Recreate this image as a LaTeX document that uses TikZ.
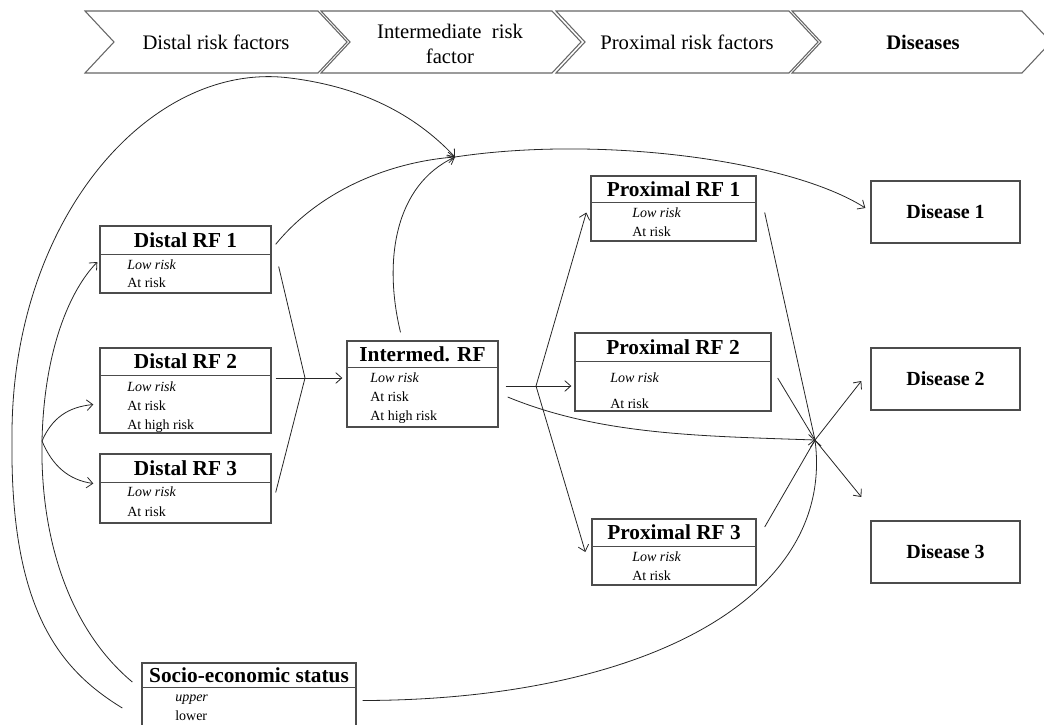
\documentclass[tikz,border=0pt]{standalone}
\usepackage{fontspec}
\setmainfont{Liberation Serif}
\usetikzlibrary{arrows.meta,calc}
\begin{document}
\begin{tikzpicture}[x=0.75pt,y=-0.75pt,
 ln/.style={line width=0.6pt, draw=black!85},
 arr/.style={ln, -{Straight Barb[length=4.5pt,width=8pt]}},
 rbox/.style={draw=black!70, line width=1pt, inner sep=0pt},
 sep/.style={draw=black!70, line width=1pt},
 ttl/.style={font=\fontsize{16}{18}\selectfont\bfseries, inner sep=0pt},
 itm/.style={font=\fontsize{10.5}{12}\selectfont, anchor=west, inner sep=0pt, text height=0.7em, text depth=0.2em},
 chev/.style={draw=black!60, line width=0.8pt, fill=white},
 htxt/.style={font=\fontsize{15.5}{19}\selectfont, align=center, inner sep=0pt},
 dis/.style={rbox, font=\fontsize{15}{18}\selectfont\bfseries, minimum width=149*0.75pt, minimum height=62*0.75pt}
]
\useasboundingbox (0,0) rectangle (1044,724);

% header chevrons
\draw[chev] (85,11) -- (318,11) -- (347,42) -- (318,73) -- (85,73) -- (114,42) -- cycle;
\draw[chev] (321,11) -- (552,11) -- (581,42) -- (552,73) -- (321,73) -- (350,42) -- cycle;
\draw[chev] (556,11) -- (789,11) -- (818,42) -- (789,73) -- (556,73) -- (585,42) -- cycle;
\draw[chev] (792,11) -- (1022,11) -- (1051,42) -- (1022,73) -- (792,73) -- (821,42) -- cycle;
\node[htxt] (h1) at (216,42) {Distal risk factors};
\node[htxt] (h2) at (450,44) {Intermediate\ \ risk\\factor};
\node[htxt] (h3) at (687,42) {Proximal risk factors};
\node[htxt, font=\fontsize{15.5}{19}\selectfont\bfseries] (h4) at (923,42) {Diseases};

% Distal RF 1
\node[rbox, minimum width=171*0.75pt, minimum height=67*0.75pt] (d1) at (185.5,259.5) {};
\draw[sep] ($(d1.north west)+(0,29)$) -- ($(d1.north east)+(0,29)$);
\node[ttl] (d1t) at ($(d1.north)+(0,14.5)$) {Distal RF 1};
\node[itm] (d1a) at (127,266) {\itshape Low risk};
\node[itm] (d1b) at (127,284) {At risk};

% Distal RF 2
\node[rbox, minimum width=171*0.75pt, minimum height=85*0.75pt] (d2) at (185.5,390.5) {};
\draw[sep] ($(d2.north west)+(0,28)$) -- ($(d2.north east)+(0,28)$);
\node[ttl] (d2t) at ($(d2.north)+(0,14)$) {Distal RF 2};
\node[itm] (d2a) at (127,388) {\itshape Low risk};
\node[itm] (d2b) at (127,407) {At risk};
\node[itm] (d2c) at (127,426) {At high risk};

% Distal RF 3
\node[rbox, minimum width=171*0.75pt, minimum height=69*0.75pt] (d3) at (185.5,488.5) {};
\draw[sep] ($(d3.north west)+(0,29)$) -- ($(d3.north east)+(0,29)$);
\node[ttl] (d3t) at ($(d3.north)+(0,14.5)$) {Distal RF 3};
\node[itm] (d3a) at (127,493) {\itshape Low risk};
\node[itm] (d3b) at (127,513) {At risk};

% Intermediate RF
\node[rbox, minimum width=151*0.75pt, minimum height=86*0.75pt] (im) at (422.5,384) {};
\draw[sep] ($(im.north west)+(0,27)$) -- ($(im.north east)+(0,27)$);
\node[ttl] (imt) at ($(im.north)+(0,13.5)$) {Intermed. RF};
\node[itm] (ima) at (370,379) {\itshape Low risk};
\node[itm] (imb) at (370,398) {At risk};
\node[itm] (imc) at (370,417) {At high risk};

% Proximal RF 1
\node[rbox, minimum width=165*0.75pt, minimum height=65*0.75pt] (p1) at (673.5,208.5) {};
\draw[sep] ($(p1.north west)+(0,27)$) -- ($(p1.north east)+(0,27)$);
\node[ttl] (p1t) at ($(p1.north)+(0,13.5)$) {Proximal RF 1};
\node[itm] (p1a) at (632,214) {\itshape Low risk};
\node[itm] (p1b) at (632,233) {At risk};

% Proximal RF 2
\node[rbox, minimum width=196*0.75pt, minimum height=78*0.75pt] (p2) at (673,372) {};
\draw[sep] ($(p2.north west)+(0,29)$) -- ($(p2.north east)+(0,29)$);
\node[ttl] (p2t) at ($(p2.north)+(0,14.5)$) {Proximal RF 2};
\node[itm] (p2a) at (610,379) {\itshape Low risk};
\node[itm] (p2b) at (610,405) {At risk};

% Proximal RF 3
\node[rbox, minimum width=164*0.75pt, minimum height=66*0.75pt] (p3) at (674,552) {};
\draw[sep] ($(p3.north west)+(0,28)$) -- ($(p3.north east)+(0,28)$);
\node[ttl] (p3t) at ($(p3.north)+(0,14)$) {Proximal RF 3};
\node[itm] (p3a) at (632,558) {\itshape Low risk};
\node[itm] (p3b) at (632,577) {At risk};

% Socio-economic status
\node[rbox, minimum width=214*0.75pt, minimum height=77*0.75pt] (ses) at (249,701.5) {};
\draw[sep] ($(ses.north west)+(0,25)$) -- ($(ses.north east)+(0,25)$);
\node[ttl] (sest) at ($(ses.north)+(0,12.5)$) {Socio-economic status};
\node[itm] (sesa) at (175,698) {\itshape upper};
\node[itm] (sesb) at (175,717) {lower};

% Diseases
\node[dis] (dis1) at (945.5,212) {Disease 1};
\node[dis] (dis2) at (945.5,379) {Disease 2};
\node[dis] (dis3) at (945.5,552) {Disease 3};

% junction points
\coordinate (P1) at (455,157);
\coordinate (P2) at (815,440);
\coordinate (J1) at (305,378);
\coordinate (J2) at (536,386);
\coordinate (B) at (42,441);

% distal -> intermediate
\draw[ln] ($(d1.east)+(7,7)$) -- (J1);
\draw[ln] ($(d2.east)+(4,-12.5)$) -- (J1);
\draw[ln] ($(d3.east)+(4,4)$) -- (J1);
\draw[arr] (J1) -- ($(im.west)+(-4,-6)$);

% intermediate -> proximal
\draw[ln] ($(im.east)+(7,2)$) -- (J2);
\draw[arr] (J2) -- ($(p1.west)+(-4,4)$);
\draw[arr] (J2) -- ($(p2.west)+(-3,14)$);
\draw[arr] (J2) -- ($(p3.west)+(-6,0)$);

% into P1
\draw[arr] ($(d1.north east)+(4,19)$) .. controls (320,190) and (390,162) .. (P1);
\draw[arr] ($(im.north)+(-22,-8)$) .. controls (383,260) and (395,185) .. (P1);
\draw[arr] ($(ses.west)+(-19,6.5)$) .. controls (60,670) and (10,610) .. (12,440)
   .. controls (10,220) and (150,60) .. (290,78) .. controls (370,88) and (420,120) .. (P1);
\draw[arr] (P1) .. controls (600,135) and (790,160) .. ($(dis1.west)+(-5,-4)$);

% socio -> distal
\draw[arr] ($(ses.west)+(-9,-19.5)$) .. controls (70,630) and (40,540) .. (B)
   .. controls (44,350) and (70,290) .. ($(d1.west)+(-2,2.5)$);
\draw[arr] (B) .. controls (52,418) and (68,407) .. ($(d2.west)+(-6,14)$);
\draw[arr] (B) .. controls (52,465) and (68,480) .. ($(d3.west)+(-6,-5)$);

% into P2
\draw[arr] ($(im.east)+(9,13)$) .. controls (600,435) and (700,436) .. (P2);
\draw[ln] ($(p1.east)+(8,4)$) -- (P2);
\draw[ln] ($(p2.east)+(6,6)$) -- (P2);
\draw[ln] ($(p3.east)+(8,-25)$) -- (P2);
\draw[arr] ($(ses.east)+(6,-1)$) .. controls (640,700) and (835,600) .. (P2);
\draw[arr] (P2) -- ($(dis2.west)+(-9,2)$);
\draw[arr] (P2) -- ($(dis3.west)+(-9,-55)$);
\end{tikzpicture}
\end{document}
